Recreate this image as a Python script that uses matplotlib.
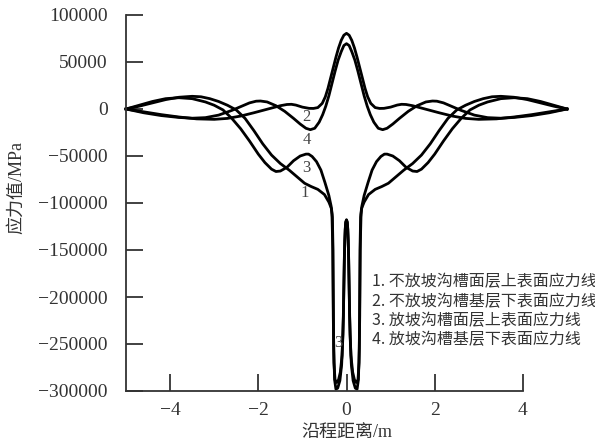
import numpy as np
import matplotlib
matplotlib.use('Agg')
import matplotlib.pyplot as plt

plt.rcParams['font.family'] = ['Liberation Serif', 'Noto Sans CJK SC', 'DejaVu Sans']
plt.rcParams['axes.unicode_minus'] = True

# left half of each curve (x <= 0), the chart is symmetric about x = 0
# 1. upper surface, no slope ditch
x1h = [-5.0, -4.7, -4.4, -4.1, -3.8, -3.5, -3.3, -3.1, -2.9, -2.7, -2.5, -2.3, -2.1, -1.9,
       -1.7, -1.5, -1.3, -1.1, -0.95, -0.8, -0.65, -0.5, -0.4, -0.34, -0.32, -0.31, -0.30,
       -0.29, -0.27, -0.24, -0.20, -0.15, -0.11, -0.08, -0.06, -0.04, -0.02, 0.0]
y1h = [0, 3000, 6500, 10000, 12500, 13500, 13000, 11000, 8000, 4000, -1000, -10000, -23000,
       -37000, -49000, -58000, -65000, -73000, -79000, -82500, -85500, -91000, -99000,
       -106000, -115000, -140000, -200000, -255000, -288000, -298000, -297000, -289000,
       -272000, -240000, -190000, -140000, -121000, -118000]

# 2. base lower surface, no slope ditch
x2h = [-5.0, -4.6, -4.2, -3.8, -3.4, -3.0, -2.7, -2.4, -2.1, -1.9, -1.7, -1.5, -1.35, -1.25,
       -1.15, -1.0, -0.85, -0.75, -0.65, -0.55, -0.48, -0.42, -0.36, -0.3, -0.24, -0.18,
       -0.12, -0.06, 0.0]
y2h = [0, -3000, -6000, -8500, -10500, -11000, -10000, -7500, -4000, -1500, 1000, 3500, 4800,
       5000, 4200, 2000, 700, 600, 1500, 6000, 13000, 22000, 33000, 44000, 55000, 65000,
       73000, 78500, 80500]

# 3. upper surface, with slope ditch
x3h = [-5.0, -4.7, -4.4, -4.1, -3.8, -3.5, -3.2, -3.0, -2.8, -2.6, -2.4, -2.2, -2.0, -1.85,
       -1.7, -1.6, -1.5, -1.35, -1.2, -1.05, -0.92, -0.86, -0.78, -0.68, -0.58, -0.49, -0.4,
       -0.35, -0.33, -0.31, -0.30, -0.285, -0.26, -0.22, -0.18, -0.14, -0.10, -0.07, -0.05,
       -0.03, -0.015, 0.0]
y3h = [0, 4000, 8000, 11000, 12000, 11000, 7500, 4000, -1000, -10000, -21000, -34000, -48000,
       -57000, -64000, -66500, -66000, -62000, -55000, -50000, -48000, -48000, -50500,
       -56000, -65000, -78000, -92000, -103000, -112000, -150000, -220000, -270000, -288000,
       -291000, -288000, -280000, -262000, -220000, -160000, -128000, -120000, -118000]

# 4. base lower surface, with slope ditch
x4h = [-5.0, -4.6, -4.2, -3.8, -3.5, -3.2, -2.9, -2.6, -2.4, -2.2, -2.05, -1.95, -1.8, -1.6,
       -1.4, -1.2, -1.05, -0.92, -0.82, -0.72, -0.62, -0.54, -0.47, -0.4, -0.33, -0.26,
       -0.19, -0.12, -0.06, 0.0]
y4h = [0, -4000, -7000, -9000, -9800, -9200, -6500, -1500, 2500, 6500, 8300, 8500, 7500, 3500,
       -2500, -10000, -16000, -20500, -22000, -20500, -14000, -6000, 3000, 14000, 27000,
       40000, 52000, 61000, 67500, 69500]

legend_lines = ['1. 不放坡沟槽面层上表面应力线',
                '2. 不放坡沟槽基层下表面应力线',
                '3. 放坡沟槽面层上表面应力线',
                '4. 放坡沟槽基层下表面应力线']

xticks = [-4, -2, 0, 2, 4]
yticks = [100000, 50000, 0, -50000, -100000, -150000, -200000, -250000, -300000]


def full(xh, yh):
    xh = np.array(xh)
    yh = np.array(yh)
    return np.concatenate([xh, -xh[::-1][1:]]), np.concatenate([yh, yh[::-1][1:]])


fig = plt.figure(figsize=(5.95, 4.43), dpi=100)
ax = fig.add_axes([126/595, 1-391/443, 441/595, 376/443])

for xh, yh in [(x1h, y1h), (x2h, y2h), (x3h, y3h), (x4h, y4h)]:
    xx, yy = full(xh, yh)
    ax.plot(xx, yy, color='black', lw=2.0, clip_on=False, solid_joinstyle='round')

ax.set_xlim(-5, 5)
ax.set_ylim(-300000, 100000)
ax.spines['top'].set_visible(False)
ax.spines['right'].set_visible(False)
ax.spines['bottom'].set_bounds(-5, 4)
for s in ['left', 'bottom']:
    ax.spines[s].set_linewidth(1.3)
    ax.spines[s].set_color('#333333')

ax.set_xticks(xticks)
ax.set_yticks(yticks)
ax.set_yticklabels([str(v).replace('-', '\u2212') for v in yticks])
ax.tick_params(axis='both', direction='in', length=12, width=1.3, color='#333333',
               labelsize=14, labelcolor='#333333')
ax.tick_params(axis='x', pad=8)
ax.tick_params(axis='y', pad=13)

ax.set_xlabel('沿程距离/m', fontsize=13, color='#333333')
ax.set_ylabel('应力值/MPa', fontsize=13, color='#333333')
ax.xaxis.set_label_coords(0.5, -0.088)
ax.yaxis.set_label_coords(-0.229, 0.54)

# curve numbers
lab = dict(fontsize=12, color='#444444', ha='center', va='center')
ax.text(-0.91, -8500, '2', **lab)
ax.text(-0.89, -33000, '4', **lab)
ax.text(-0.92, -62800, '3', **lab)
ax.text(-0.95, -89400, '1', **lab)
ax.text(-0.18, -249000, '3', **lab)

for i, t in enumerate(legend_lines):
    ax.text(0.57, -183700 - i * 20700, t, fontsize=11.5, color='#333333',
            family=['Noto Sans CJK SC', 'DejaVu Sans'], ha='left', va='center',
            clip_on=False)

fig.savefig('out.png', dpi=100)
